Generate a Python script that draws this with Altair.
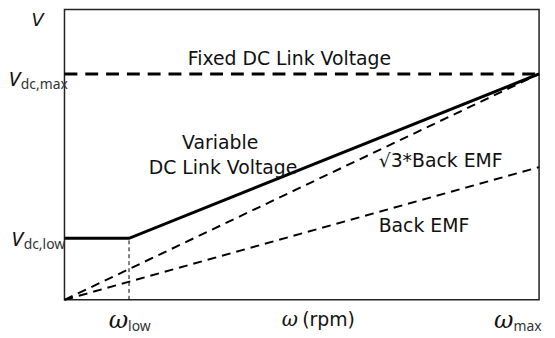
import altair as alt
import pandas as pd

# ---- data (abstract units: omega 0..100, voltage 0..100) ----
w_low = 13.6
w_max = 100
v_dc_low = 21.2
v_dc_max = 77.8
v_emf_max = 45.7

fixed_x = [0, w_max]
fixed_y = [v_dc_max, v_dc_max]
var_x = [0, w_low, w_max]
var_y = [v_dc_low, v_dc_low, v_dc_max]
sq3_x = [0, w_max]
sq3_y = [0, v_dc_max]
emf_x = [0, w_max]
emf_y = [0, v_emf_max]
vlow_x = [w_low, w_low]
vlow_y = [0, v_dc_low]

# in-plot annotations
ann_text = ["Fixed DC Link Voltage", "Variable", "DC Link Voltage"]
ann_x = [47.4, 32.8, 33.4]
ann_y = [80.9, 51.9, 43.3]
ann2_text = ["\u221a3*Back EMF", "Back EMF"]
ann2_x = [66.2, 66.2]
ann2_y = [45.7, 23.2]

# axis-like labels (main symbol + subscript)
top_text = ["V"]
top_x = [-4.4]
top_y = [94.2]
sym_text = ["V", "V", "\u03c9", "\u03c9"]
sym_x = [-9.4, -8.8, 13.4, 94.6]
sym_y = [73.7, 18.4, -9.6, -9.6]
sub_text = ["dc,max", "dc,low", "low", "max"]
sub_x = [-9.2, -8.6, 13.4, 94.6]
sub_y = [72.6, 17.4, -10.6, -10.6]
axis_sym = ["\u03c9"]
axis_sym_x = [49.2]
axis_sym_y = [-8.9]
unit_text = ["(rpm)"]
unit_x = [50.1]
unit_y = [-8.9]

X = alt.Scale(domain=[0, 100], nice=False, zero=False)
Y = alt.Scale(domain=[0, 100], nice=False, zero=False)
FONT = "DejaVu Sans"


def line(xs, ys, width, dash=None):
    df = pd.DataFrame({"x": xs, "y": ys, "o": list(range(len(xs)))})
    kw = dict(color="#000", strokeWidth=width, strokeCap="butt")
    if dash:
        kw["strokeDash"] = dash
    return alt.Chart(df).mark_line(**kw).encode(
        x=alt.X("x:Q", scale=X, axis=None),
        y=alt.Y("y:Q", scale=Y, axis=None),
        order="o:Q",
    )


def text(ts, xs, ys, align, size, font=FONT, style="normal", color="#111"):
    df = pd.DataFrame({"t": ts, "x": xs, "y": ys})
    return alt.Chart(df).mark_text(
        align=align, baseline="alphabetic", fontSize=size, font=font,
        fontStyle=style, color=color,
    ).encode(
        x=alt.X("x:Q", scale=X, axis=None),
        y=alt.Y("y:Q", scale=Y, axis=None),
        text="t:N",
    )


chart = alt.layer(
    line(vlow_x, vlow_y, 1, [4, 3]),
    line(emf_x, emf_y, 2, [9, 6]),
    line(sq3_x, sq3_y, 2, [9, 6]),
    line(fixed_x, fixed_y, 3, [13, 8]),
    line(var_x, var_y, 3),
    text(ann_text, ann_x, ann_y, "center", 19),
    text(ann2_text, ann2_x, ann2_y, "left", 19),
    text(top_text, top_x, top_y, "right", 18, font="DejaVu Sans", style="italic"),
    text(sym_text[:2], sym_x[:2], sym_y[:2], "right", 21, font="Noto Sans", style="italic"),
    text(sym_text[2:], sym_x[2:], sym_y[2:], "right", 24, font="DejaVu Serif", style="italic"),
    text(axis_sym, axis_sym_x, axis_sym_y, "right", 20, font="DejaVu Serif", style="italic"),
    text(sub_text, sub_x, sub_y, "left", 14, font="Noto Sans", color="#333"),
    text(unit_text, unit_x, unit_y, "left", 19),
).properties(
    width=479, height=293,
    autosize=alt.AutoSizeParams(type="none"),
    padding={"left": 57, "top": 0, "right": 8, "bottom": 37},
).configure_view(stroke="#222", strokeWidth=1.5)

chart.save("out.html", embed_options={"renderer": "svg", "actions": False})
